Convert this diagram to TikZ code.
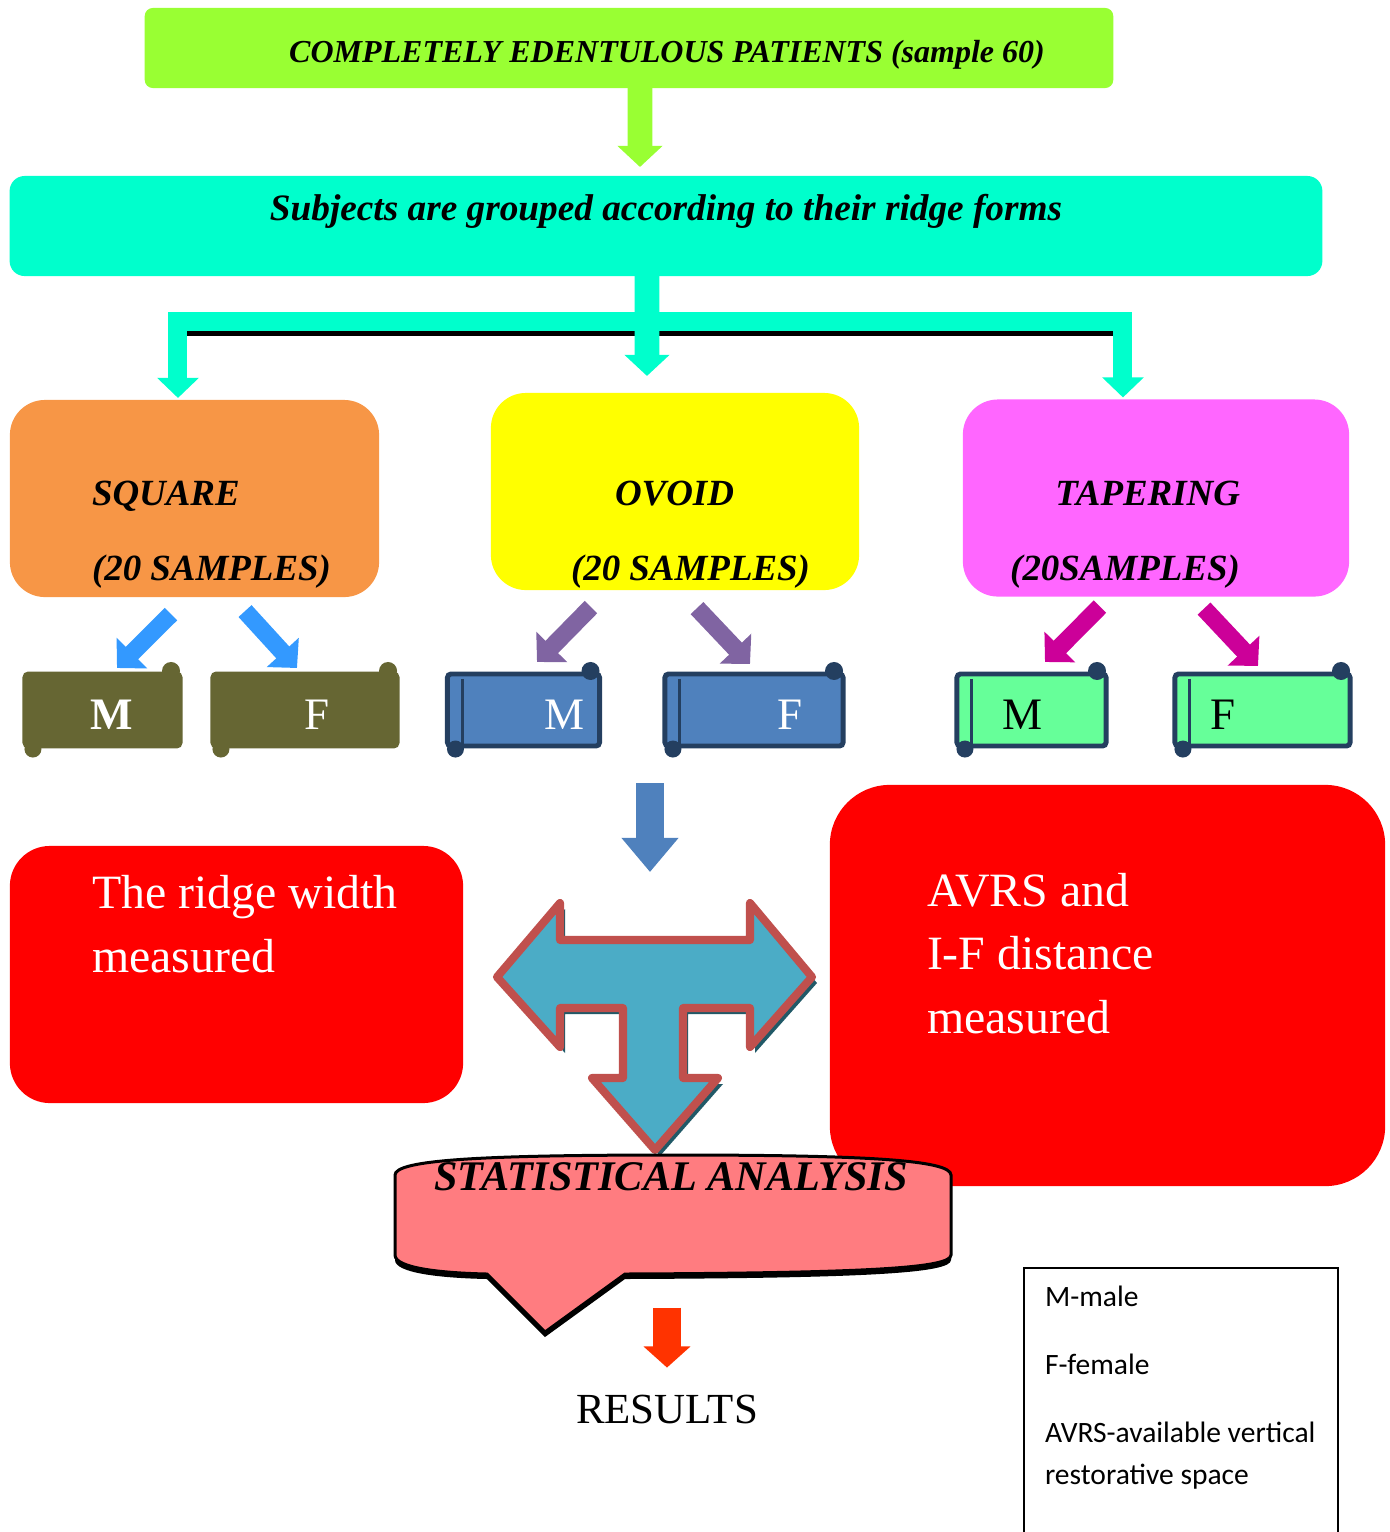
\documentclass[tikz,border=0pt]{standalone}
\usepackage{fontspec}
\setmainfont{Liberation Serif}
\newfontfamily\keyfont{Carlito}
\usetikzlibrary{positioning, arrows.meta, calc}
\definecolor{patgreen}{HTML}{99FF33}
\definecolor{grpaqua}{HTML}{00FFCC}
\definecolor{sqorange}{HTML}{F79646}
\definecolor{ovyellow}{HTML}{FFFF00}
\definecolor{tppink}{HTML}{FF66FF}
\definecolor{mfolive}{HTML}{666633}
\definecolor{mfblue}{HTML}{4F81BD}
\definecolor{mfgreen}{HTML}{66FF99}
\definecolor{rolledge}{HTML}{243F60}
\definecolor{arrblue}{HTML}{3399FF}
\definecolor{arrpurple}{HTML}{8064A2}
\definecolor{arrmagenta}{HTML}{CC0099}
\definecolor{teefill}{HTML}{4BACC6}
\definecolor{teeedge}{HTML}{C0504D}
\definecolor{teeshade}{HTML}{215967}
\definecolor{boxred}{HTML}{FF0000}
\definecolor{statpink}{HTML}{FF7C80}
\definecolor{resred}{HTML}{FF3300}
\tikzset{
  flowchart/.style={
	x=0.01cm, y=-0.01cm, % one unit is one pixel of the page, y grows downwards
	every node/.style={inner sep=0pt, outer sep=0pt}, % boxes take their size from minimum width/height
  },
  titlebox/.style={fill=patgreen, rounded corners=0.08cm, minimum width=9.68cm, minimum height=0.8cm,
	text height=0.3cm, text depth=0.02cm, font=\fontsize{9.1}{11}\selectfont\bfseries\itshape},
  groupbox/.style={fill=grpaqua, rounded corners=0.15cm, minimum width=13.12cm, minimum height=1cm,
	text height=0.3cm, text depth=0.42cm, font=\fontsize{10.6}{13}\selectfont\bfseries\itshape},
  formbox/.style={fill=#1, rounded corners=0.35cm, minimum height=1.97cm}, % one box per ridge form
  formtext/.style={font=\fontsize{10.5}{12}\selectfont\bfseries\itshape},
  roll/.style={fill=#1, draw=rolledge, line width=1.4pt, rounded corners=1pt, minimum height=0.72cm}, % M and F scrolls
  mftext/.style={anchor=base, font=\fontsize{12.8}{14}\selectfont},
  blockarr/.style={draw=#1, line width=7pt, -{Triangle[width=12.5pt,length=6pt]}}, % fat arrows
  mfarrow/.style={draw=#1, line width=5pt, -{Triangle[width=12pt,length=6pt]}},
  redbox/.style={fill=boxred, rounded corners=#1},
  redtext/.style={white, align=left, anchor=base west, font=\fontsize{13.6}{18}\selectfont}, % base = last line
}
\begin{document}
\begin{tikzpicture}[flowchart]
	  \useasboundingbox (0,0) rectangle (1390,1532);
	  % patients and grouping
	  \node[titlebox] (pat) at (629,48) {\hspace{0.76cm}COMPLETELY EDENTULOUS PATIENTS (sample 60)};
	  \node[groupbox] (grp) at (666,226) {Subjects are grouped according to their ridge forms};
	  % ridge forms
	  \node[formbox=sqorange, minimum width=3.69cm] (sq) at (194.5,498.5) {};
	  \node[formbox=ovyellow, minimum width=3.68cm] (ov) at (675,491.5) {};
	  \node[formbox=tppink, minimum width=3.86cm] (tp) at (1156,498) {};
	  \node[formtext, anchor=base west] (sqname) at (92,505) {SQUARE};
	  \node[formtext, anchor=base west] (sqsize) at (92,580) {(20 SAMPLES)};
	  \node[formtext, anchor=base west] (ovname) at (615,505) {OVOID};
	  \node[formtext, anchor=base west] (ovsize) at (571,580) {(20 SAMPLES)};
	  \node[formtext, anchor=base east] (tpname) at (1240,505) {TAPERING};
	  \node[formtext, anchor=base east] (tpsize) at (1240,580) {(20SAMPLES)};
	  % male / female scrolls
	  \node[roll=mfolive, draw=mfolive, minimum width=1.55cm] (sqM) at (102.5,710) {};
	  \node[roll=mfolive, draw=mfolive, minimum width=1.84cm] (sqF) at (305,710) {};
	  \node[roll=mfblue, minimum width=1.52cm] (ovM) at (523.5,710) {};
	  \node[roll=mfblue, minimum width=1.78cm] (ovF) at (754,710) {};
	  \node[roll=mfgreen, minimum width=1.49cm] (tpM) at (1031.5,710) {};
	  \node[roll=mfgreen, minimum width=1.75cm] (tpF) at (1262.5,710) {};
	  \foreach \n/\c in {sqM/mfolive, sqF/mfolive, ovM/rolledge, ovF/rolledge, tpM/rolledge, tpF/rolledge} {
		\fill[\c] ([xshift=-0.09cm, yshift=0.03cm]\n.north east) circle[radius=0.09cm];
		\fill[\c] ([xshift=0.08cm, yshift=-0.03cm]\n.south west) circle[radius=0.085cm];
	  }
	  \foreach \n in {ovM, ovF, tpM, tpF}
		\draw[rolledge, line width=0.03cm] ([xshift=0.15cm, yshift=-0.05cm]\n.north west) -- ([xshift=0.15cm]\n.south west);
	  \node[mftext, white, font=\fontsize{12.8}{14}\selectfont\bfseries] (sqMt) at (112,729) {M};
	  \node[mftext, white] (sqFt) at (317,729) {F};
	  \node[mftext, white] (ovMt) at (565,729) {M};
	  \node[mftext, white] (ovFt) at (790,729) {F};
	  \node[mftext] (tpMt) at (1023,729) {M};
	  \node[mftext] (tpFt) at (1223,729) {F};
	  % arrows
	  \draw[blockarr=patgreen, shorten >=0.09cm] ([xshift=0.11cm]pat.south) -- ([xshift=-0.26cm]grp.north);
	  \draw[line width=0.06cm] ($(sq.north |- 0,333)+(-16,0)$) -- ($(tp.north |- 0,333)+(-33,0)$);
	  \draw[draw=grpaqua, line width=0.19cm, {Triangle[width=11.5pt,length=5.7pt]}-{Triangle[width=11.5pt,length=5.7pt]}]
		([xshift=-0.165cm, yshift=0.02cm]sq.north) |- (grp.south |- 0,321) -| ([xshift=-0.33cm, yshift=0.02cm]tp.north);
	  \draw[blockarr=grpaqua, shorten >=0.17cm] ([xshift=-0.19cm]grp.south) -- ([xshift=-0.28cm]ov.north);
	  \draw[mfarrow=arrblue] ([xshift=-0.235cm, yshift=-0.17cm]sq.south) -- ([xshift=0.145cm, yshift=0.06cm]sqM.north);
	  \draw[mfarrow=arrblue] ([xshift=0.505cm, yshift=-0.14cm]sq.south) -- ([xshift=-0.08cm, yshift=0.06cm]sqF.north);
	  \draw[mfarrow=arrpurple] ([xshift=-0.84cm, yshift=-0.17cm]ov.south) -- ([xshift=0.135cm, yshift=0.12cm]ovM.north);
	  \draw[mfarrow=arrpurple] ([xshift=0.22cm, yshift=-0.18cm]ov.south) -- ([xshift=-0.04cm, yshift=0.1cm]ovF.north);
	  \draw[mfarrow=arrmagenta] ([xshift=-0.56cm, yshift=-0.1cm]tp.south) -- ([xshift=0.135cm, yshift=0.12cm]tpM.north);
	  \draw[mfarrow=arrmagenta] ([xshift=0.48cm, yshift=-0.12cm]tp.south) -- ([xshift=-0.045cm, yshift=0.08cm]tpF.north);
	  \coordinate (mfrow) at (650,783);
	  \coordinate (split) at (650,872);
	  \draw[draw=mfblue, line width=8pt, -{Triangle[width=15.6pt,length=9.7pt]}] (mfrow) -- (split);
	  % three way arrow
	  \filldraw[fill=teefill, draw=teeedge, line width=2.3pt, line join=round,
		preaction={fill=teeshade, transform canvas={xshift=0.05cm, yshift=-0.06cm}}]
		(497,977) -- (560,903) -- (560,940) -- (750,940) -- (750,903) -- (812,977) -- (750,1047) -- (750,1008)
		-- (683,1008) -- (683,1078) -- (718,1078) -- (655,1150) -- (592,1078) -- (623,1078) -- (623,1008)
		-- (560,1008) -- (560,1047) -- cycle;
	  % measurements
	  \node[redbox=0.4cm, minimum width=4.53cm, minimum height=2.57cm] (rw) at (236.5,974.5) {};
	  \node[redbox=0.6cm, minimum width=5.55cm, minimum height=4.01cm] (av) at (1107.5,985.5) {};
	  \node[redtext] (rwtext) at (92,972) {The ridge width\\measured};
	  \node[redtext] (avtext) at (927,1033) {AVRS and\\I-F distance\\measured};
	  % statistics
	  \path[fill=statpink, draw=black, line width=0.03cm, preaction={fill=black, transform canvas={yshift=-0.05cm}}]
		(395,1255) -- (395,1175) .. controls (395,1160) and (480,1155) .. (673,1155)
		.. controls (866,1155) and (951,1160) .. (951,1175) -- (951,1255)
		.. controls (951,1268) and (870,1273) .. (625,1274) -- (545,1332) -- (487,1274)
		.. controls (440,1273) and (395,1268) .. (395,1255) -- cycle;
	  \node[font=\fontsize{12}{14}\selectfont\bfseries\itshape, anchor=base] (stat) at (671,1190) {STATISTICAL ANALYSIS};
	  \node[font=\fontsize{12.2}{14}\selectfont, anchor=base] (res) at (667,1423) {RESULTS};
	  \draw[draw=resred, line width=7.7pt, -{Triangle[width=13pt,length=6pt]}, shorten >=0.27cm] ([yshift=0.87cm]res.north) -- (res.north);
	  % key
	  \draw[line width=0.02cm] (1024,1540) |- (1338,1268) -- (1338,1540);
	  \node[font=\keyfont\fontsize{8.4}{11.7}\selectfont, align=left, anchor=base west] (key) at (1045,1484)
		{M-male\\[0.27cm]F-female\\[0.27cm]AVRS-available vertical\\restorative space};
	  \end{tikzpicture}
\end{document}
